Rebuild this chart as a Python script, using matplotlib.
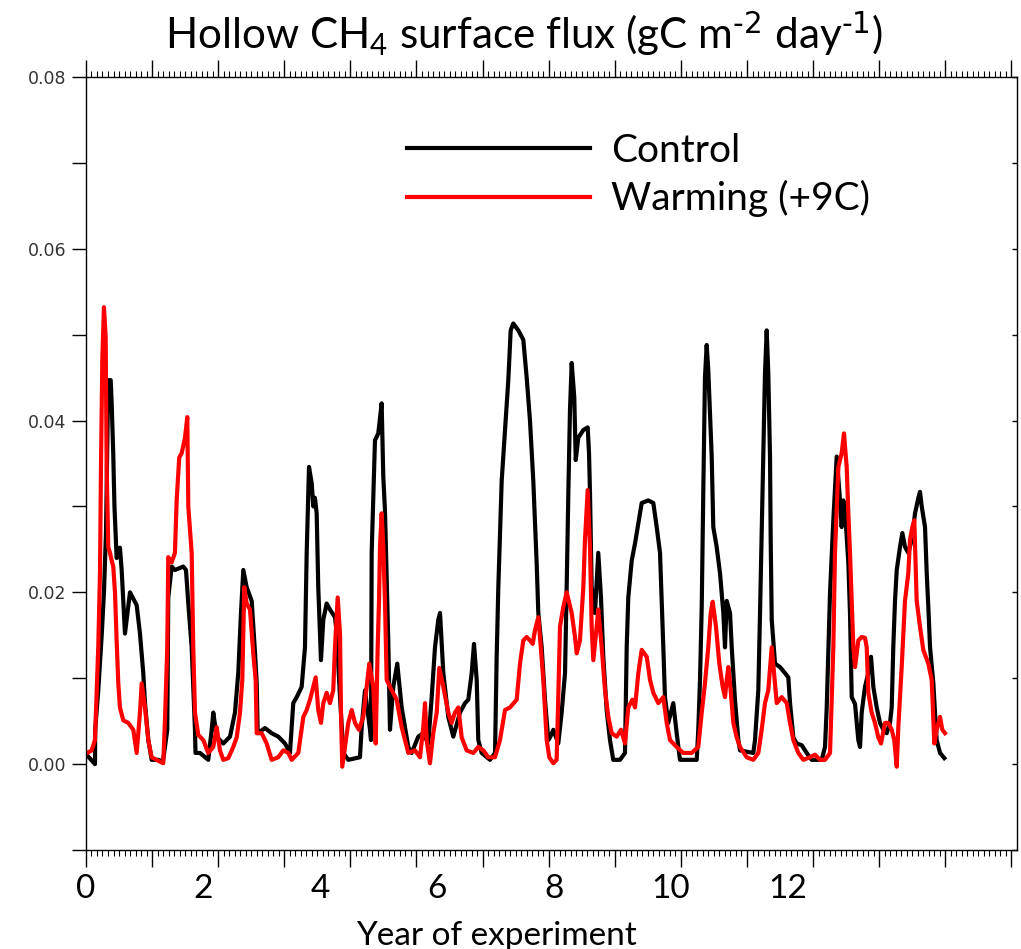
import matplotlib
matplotlib.use('Agg')
import matplotlib.pyplot as plt
from matplotlib.ticker import MultipleLocator

plt.rcParams['font.family'] = ['Lato', 'DejaVu Sans']
plt.rcParams['mathtext.default'] = 'regular'

# Control run (years since start, gC m-2 day-1)
control_years = [0.02, 0.136, 0.14, 0.186, 0.238, 0.272, 0.303, 0.337, 0.374, 0.389, 0.413, 0.431, 0.464, 0.514,
                 0.54, 0.59, 0.666, 0.767, 0.817, 0.867, 0.893, 0.943, 0.994, 1.094, 1.165, 1.23, 1.245, 1.297,
                 1.346, 1.472, 1.513, 1.548, 1.599, 1.649, 1.657, 1.725, 1.85, 1.902, 1.926, 1.977, 2.077, 2.179,
                 2.254, 2.304, 2.345, 2.38, 2.431, 2.507, 2.557, 2.583, 2.598, 2.708, 2.809, 2.909, 3.011, 3.086,
                 3.136, 3.188, 3.263, 3.313, 3.339, 3.374, 3.415, 3.439, 3.464, 3.49, 3.514, 3.555, 3.59, 3.641,
                 3.691, 3.767, 3.793, 3.843, 3.893, 3.968, 4.145, 4.171, 4.221, 4.297, 4.312, 4.322, 4.372, 4.422,
                 4.473, 4.498, 4.523, 4.573, 4.599, 4.649, 4.709, 4.776, 4.876, 4.927, 5.027, 5.103, 5.178, 5.23,
                 5.28, 5.33, 5.356, 5.406, 5.481, 5.557, 5.658, 5.734, 5.784, 5.835, 5.87, 5.911, 5.935, 5.986,
                 6.112, 6.188, 6.213, 6.238, 6.289, 6.339, 6.389, 6.425, 6.464, 6.54, 6.616, 6.667, 6.717, 6.767,
                 6.818, 6.843, 6.894, 6.944, 6.994, 7.02, 7.07, 7.145, 7.196, 7.247, 7.272, 7.297, 7.322, 7.348,
                 7.387, 7.409, 7.448, 7.524, 7.59, 7.61, 7.625, 7.65, 7.7, 7.75, 7.791, 7.826, 7.877, 7.927, 7.977,
                 8.079, 8.154, 8.18, 8.204, 8.256, 8.306, 8.356, 8.407, 8.507, 8.583, 8.634, 8.684, 8.71, 8.734,
                 8.759, 8.809, 8.885, 8.936, 8.986, 9.239, 9.263, 9.289, 9.315, 9.339, 9.364, 9.39, 9.414, 9.44,
                 9.466, 9.49, 9.541, 9.592, 9.642, 9.667, 9.693, 9.743, 9.769, 9.818, 9.869, 9.894, 10.095, 10.121,
                 10.171, 10.197, 10.222, 10.247, 10.272, 10.298, 10.322, 10.348, 10.358, 10.374, 10.424, 10.499,
                 10.575, 10.625, 10.651, 10.701, 10.752, 10.828, 10.903, 10.979, 11.13, 11.18, 11.206, 11.256,
                 11.306, 11.357, 11.407, 11.432, 11.457, 11.483, 11.533, 11.558, 11.584, 11.634, 11.684, 11.71,
                 11.735, 11.785, 11.835, 11.876, 11.911, 11.962, 12.012, 12.062, 12.113, 12.163, 12.189, 12.213,
                 12.239, 12.265, 12.315, 12.35, 12.39, 12.44, 12.492, 12.542, 12.592, 12.617, 12.643, 12.693,
                 12.719, 12.743, 12.769, 12.819, 12.844, 12.87, 12.92, 12.985]
control_flux = [0.001, 0.0, 0.004, 0.0086, 0.015, 0.02, 0.027, 0.0447, 0.0447, 0.042, 0.036, 0.03, 0.024, 0.0252,
                0.0226, 0.0152, 0.02, 0.0185, 0.0152, 0.0106, 0.0071, 0.0028, 0.0005, 0.0005, 0.0003, 0.004, 0.0194,
                0.023, 0.0226, 0.023, 0.0226, 0.0187, 0.0136, 0.004, 0.0013, 0.0013, 0.0005, 0.004, 0.006, 0.0032,
                0.0024, 0.0032, 0.006, 0.0106, 0.0176, 0.0226, 0.0206, 0.019, 0.013, 0.0094, 0.0036, 0.0042, 0.0036,
                0.0032, 0.0024, 0.0013, 0.0071, 0.0078, 0.009, 0.0136, 0.0246, 0.0346, 0.0327, 0.03, 0.031, 0.0292,
                0.0206, 0.0121, 0.0168, 0.0187, 0.018, 0.0171, 0.0152, 0.0078, 0.0013, 0.0005, 0.0008, 0.0043,
                0.0086, 0.004, 0.0028, 0.0246, 0.0377, 0.0385, 0.042, 0.0334, 0.0296, 0.0144, 0.004, 0.009, 0.0117,
                0.0066, 0.002, 0.0013, 0.0032, 0.0036, 0.0024, 0.0078, 0.0136, 0.0168, 0.0176, 0.0106, 0.0055,
                0.0032, 0.006, 0.0071, 0.0075, 0.0106, 0.014, 0.0098, 0.0028, 0.0013, 0.0005, 0.0013, 0.0125,
                0.0206, 0.033, 0.0389, 0.0447, 0.0505, 0.0513, 0.0505, 0.0494, 0.045, 0.04, 0.033, 0.0234, 0.0176,
                0.0136, 0.0075, 0.0028, 0.0031, 0.004, 0.0024, 0.006, 0.0106, 0.0206, 0.0315, 0.0412, 0.0467,
                0.0427, 0.0354, 0.038, 0.0389, 0.0392, 0.0362, 0.0315, 0.0206, 0.0176, 0.0246, 0.0194, 0.0125,
                0.0063, 0.0028, 0.0005, 0.0005, 0.0013, 0.0136, 0.0194, 0.0237, 0.0257, 0.028, 0.0304, 0.0307,
                0.0304, 0.0276, 0.0246, 0.019, 0.0136, 0.0078, 0.0048, 0.0071, 0.0036, 0.0005, 0.0005, 0.004,
                0.0098, 0.0183, 0.0319, 0.045, 0.0488, 0.0459, 0.0409, 0.0358, 0.0276, 0.0253, 0.0222, 0.0176,
                0.0136, 0.019, 0.0176, 0.0136, 0.0075, 0.0028, 0.0016, 0.0013, 0.0028, 0.0086, 0.0176, 0.0269,
                0.0362, 0.0455, 0.0505, 0.0455, 0.0358, 0.0264, 0.0168, 0.0117, 0.0113, 0.0106, 0.0101, 0.0071,
                0.0031, 0.0024, 0.0022, 0.0013, 0.0005, 0.0005, 0.002, 0.0066, 0.02, 0.0284, 0.0358, 0.0307,
                0.0276, 0.0307, 0.0296, 0.0234, 0.0176, 0.0078, 0.007, 0.0028, 0.002, 0.006, 0.009, 0.0106, 0.0125,
                0.009, 0.0066, 0.0048, 0.004, 0.0036, 0.0048, 0.0066, 0.0136, 0.019, 0.0226, 0.0253, 0.0269,
                0.0253, 0.0246, 0.0261, 0.0292, 0.031, 0.0317, 0.03, 0.0276, 0.0222, 0.0183, 0.0136, 0.0094, 0.006,
                0.0028, 0.0013, 0.0007]

# Warming run (+9C)
warming_years = [0.02, 0.086, 0.136, 0.162, 0.186, 0.212, 0.227, 0.247, 0.272, 0.298, 0.313, 0.337, 0.363, 0.389,
                 0.413, 0.439, 0.464, 0.489, 0.514, 0.564, 0.64, 0.716, 0.767, 0.817, 0.843, 0.893, 0.943, 0.994,
                 1.07, 1.169, 1.195, 1.23, 1.245, 1.297, 1.346, 1.372, 1.411, 1.448, 1.498, 1.533, 1.548, 1.599,
                 1.623, 1.649, 1.699, 1.775, 1.85, 1.926, 1.977, 2.027, 2.077, 2.153, 2.228, 2.28, 2.33, 2.365,
                 2.395, 2.431, 2.481, 2.531, 2.567, 2.583, 2.658, 2.734, 2.809, 2.909, 2.985, 3.061, 3.112, 3.212,
                 3.288, 3.339, 3.389, 3.439, 3.475, 3.514, 3.555, 3.59, 3.641, 3.691, 3.741, 3.767, 3.808, 3.843,
                 3.858, 3.877, 3.918, 3.968, 4.02, 4.07, 4.13, 4.195, 4.247, 4.286, 4.346, 4.383, 4.413, 4.433,
                 4.448, 4.473, 4.498, 4.523, 4.549, 4.625, 4.7, 4.776, 4.876, 4.977, 5.053, 5.103, 5.129, 5.154,
                 5.204, 5.254, 5.306, 5.345, 5.406, 5.481, 5.532, 5.582, 5.633, 5.684, 5.759, 5.859, 5.935, 6.011,
                 6.086, 6.188, 6.263, 6.339, 6.415, 6.516, 6.566, 6.616, 6.667, 6.717, 6.758, 6.793, 6.843, 6.868,
                 6.919, 6.97, 7.009, 7.07, 7.12, 7.145, 7.171, 7.221, 7.272, 7.348, 7.398, 7.424, 7.473, 7.524,
                 7.549, 7.59, 7.625, 7.65, 7.675, 7.726, 7.75, 7.802, 7.852, 7.902, 7.953, 8.029, 8.094, 8.154,
                 8.204, 8.265, 8.306, 8.356, 8.407, 8.483, 8.533, 8.583, 8.658, 8.734, 8.785, 8.835, 8.936, 9.036,
                 9.163, 9.263, 9.315, 9.364, 9.414, 9.451, 9.481, 9.531, 9.581, 9.632, 9.667, 9.693, 9.718, 9.753,
                 9.793, 9.844, 9.894, 9.995, 10.095, 10.171, 10.222, 10.272, 10.322, 10.374, 10.409, 10.45, 10.525,
                 10.601, 10.651, 10.701, 10.776, 10.852, 10.953, 11.029, 11.104, 11.18, 11.256, 11.306, 11.331,
                 11.382, 11.432, 11.467, 11.508, 11.533, 11.558, 11.584, 11.609, 11.634, 11.684, 11.735, 11.785,
                 11.811, 11.835, 11.886, 11.936, 11.987, 12.027, 12.088, 12.138, 12.189, 12.228, 12.265, 12.289,
                 12.34, 12.39, 12.44, 12.466, 12.501, 12.531, 12.567, 12.617, 12.667, 12.743, 12.794, 12.834, 12.87,
                 12.92, 12.955, 12.995]
warming_flux = [0.0013, 0.0016, 0.0028, 0.0086, 0.0136, 0.0222, 0.0346, 0.047, 0.0532, 0.0497, 0.0346, 0.0253,
                0.0246, 0.0237, 0.023, 0.02, 0.0144, 0.0094, 0.0066, 0.0051, 0.0048, 0.004, 0.0013, 0.006, 0.0094,
                0.0066, 0.0028, 0.0008, 0.0005, 0.0001, 0.0051, 0.0136, 0.0241, 0.0235, 0.0246, 0.0307, 0.0357,
                0.0362, 0.038, 0.0404, 0.03, 0.0246, 0.0136, 0.006, 0.0034, 0.0028, 0.0013, 0.002, 0.0043, 0.0016,
                0.0005, 0.0007, 0.002, 0.0031, 0.006, 0.0098, 0.0206, 0.0187, 0.018, 0.0129, 0.0098, 0.0036,
                0.0036, 0.0024, 0.0005, 0.0008, 0.0016, 0.0013, 0.0005, 0.0013, 0.0055, 0.0063, 0.0075, 0.009,
                0.0101, 0.0063, 0.0048, 0.0071, 0.0083, 0.0071, 0.0086, 0.0136, 0.0194, 0.0152, 0.006, -0.0003,
                0.002, 0.0048, 0.0063, 0.0048, 0.004, 0.0055, 0.009, 0.0117, 0.009, 0.0024, 0.0136, 0.019, 0.0253,
                0.0292, 0.0253, 0.019, 0.0098, 0.0086, 0.0075, 0.0043, 0.0013, 0.0016, 0.0008, 0.0043, 0.0071,
                0.0028, 0.0001, 0.0036, 0.006, 0.0112, 0.009, 0.006, 0.0048, 0.006, 0.0066, 0.0031, 0.0016, 0.0013,
                0.002, 0.0016, 0.0008, 0.0008, 0.0028, 0.0063, 0.0066, 0.0075, 0.0117, 0.0144, 0.0148, 0.0144,
                0.014, 0.0156, 0.0171, 0.0148, 0.0098, 0.0028, 0.0008, 0.0001, 0.0005, 0.0078, 0.016, 0.0183, 0.02,
                0.0176, 0.0148, 0.0129, 0.0144, 0.0206, 0.0261, 0.0319, 0.0253, 0.016, 0.0121, 0.016, 0.018, 0.0136,
                0.0086, 0.0055, 0.0036, 0.0032, 0.004, 0.0024, 0.0066, 0.0075, 0.0066, 0.0106, 0.0133, 0.0125,
                0.0098, 0.0083, 0.0071, 0.0078, 0.0048, 0.0028, 0.002, 0.0013, 0.0013, 0.002, 0.006, 0.0094, 0.0136,
                0.0176, 0.0189, 0.016, 0.0117, 0.009, 0.0078, 0.0098, 0.0113, 0.0086, 0.0048, 0.0031, 0.002, 0.0008,
                0.0005, 0.0013, 0.004, 0.0071, 0.0086, 0.0136, 0.0106, 0.0071, 0.0078, 0.0071, 0.0048, 0.0028,
                0.0013, 0.0005, 0.0008, 0.0011, 0.0005, 0.0005, 0.0013, 0.0136, 0.0246, 0.0346, 0.0362, 0.0385,
                0.0346, 0.0292, 0.0246, 0.019, 0.0136, 0.0113, 0.0144, 0.0148, 0.0147, 0.0136, 0.0083, 0.006, 0.0048,
                0.0031, 0.0024, 0.0048, 0.0048, 0.004, 0.0028, -0.0003, 0.0043, 0.0113, 0.019, 0.0222, 0.0261,
                0.0276, 0.0284, 0.019, 0.016, 0.0133, 0.0117, 0.0098, 0.0024, 0.004, 0.0055, 0.004, 0.0036]

year_labels = [0, 2, 4, 6, 8, 10, 12]
label_per_year = 1.13   # the year labels were typed over the plot with a slightly different spacing

fig = plt.figure(figsize=(10.21, 9.49), dpi=100)
ax = fig.add_axes([0.0842, 0.1043, 0.9114, 0.8146])

ax.plot(control_years, control_flux, color='black', lw=3.0, label='Control')
ax.plot(warming_years, warming_flux, color='red', lw=3.0, label='Warming (+9C)')

ax.set_xlim(0, 14.077)
ax.set_ylim(-0.01, 0.08)

# x ticks: years with monthly minor ticks, no labels on the axis itself
ax.xaxis.set_major_locator(MultipleLocator(1))
ax.xaxis.set_minor_locator(MultipleLocator(1 / 12))
ax.tick_params(axis='x', which='major', direction='out', length=12, width=1, top=True, labelbottom=False)
ax.tick_params(axis='x', which='minor', direction='out', length=4.3, width=0.8, top=True)

# y ticks every 0.01 on both sides, labels every 0.02
ax.set_yticks([-0.01, 0, 0.01, 0.02, 0.03, 0.04, 0.05, 0.06, 0.07, 0.08])
ax.set_yticklabels(['', '0.00', '', '0.02', '', '0.04', '', '0.06', '', '0.08'])
ax.tick_params(axis='y', direction='out', length=10, width=1, pad=4, labelsize=12.5, labelcolor='#333333',
               labelfontfamily='DejaVu Sans')
ax.yaxis.set_tick_params(which='major', right=True)
for t in ax.yaxis.get_ticklines()[1::2]:
    t.set_markersize(3.6)
    t.set_marker(0)

for s in ax.spines.values():
    s.set_linewidth(1.0)

sec = ax.secondary_xaxis('bottom', functions=(lambda x: x * label_per_year, lambda v: v / label_per_year))
sec.set_xticks(year_labels)
sec.tick_params(length=0, pad=17, labelsize=24)
sec.spines['bottom'].set_visible(False)

ax.legend(loc='upper left', bbox_to_anchor=(0.345, 0.928), frameon=False, fontsize=28,
          handlelength=4.7, handletextpad=0.55, labelspacing=0.3, borderpad=0, borderaxespad=0)

fig.text(0.513, 0.965, r'Hollow CH$_4$ surface flux (gC m$^{\text{-2}}$ day$^{\text{-1}}$)', ha='center',
         va='center', fontsize=30.4)
fig.text(0.486, 0.014, 'Year of experiment', ha='center', va='center', fontsize=24)

fig.savefig('out.png', dpi=100)
